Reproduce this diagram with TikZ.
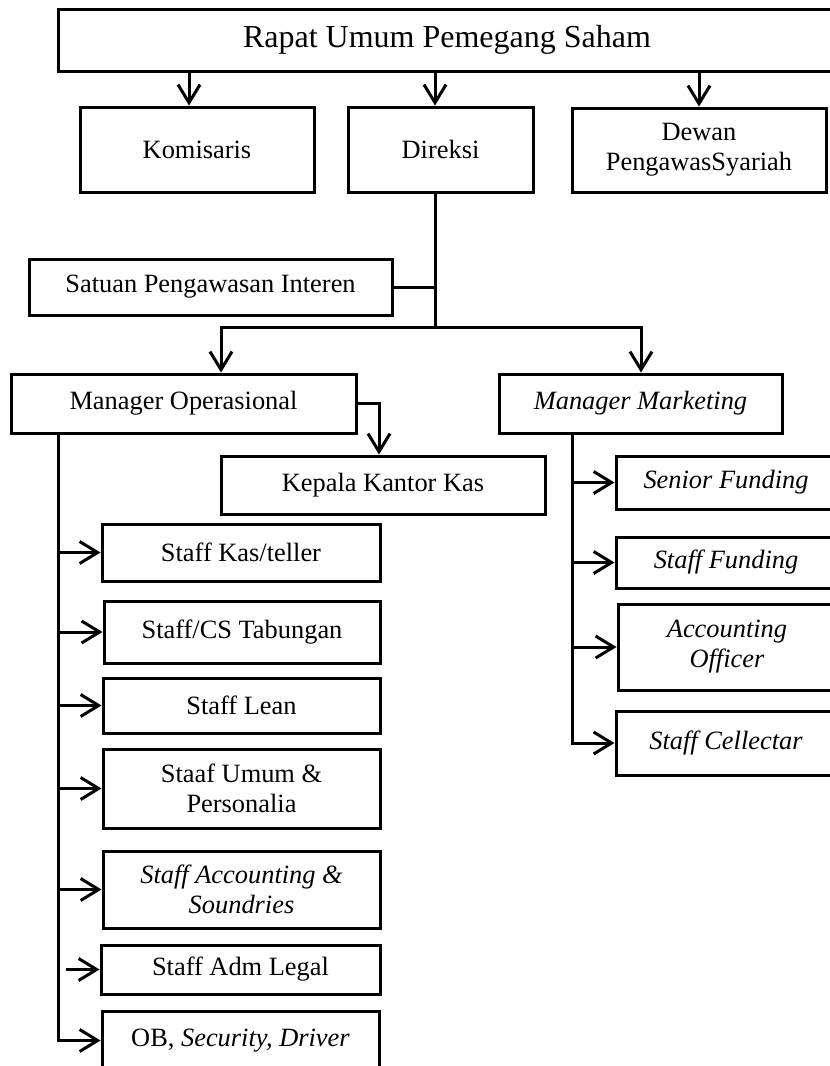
\documentclass[tikz,border=0pt]{standalone}
\usepackage{fontspec}
\setmainfont{Liberation Serif}
\usetikzlibrary{arrows.meta}

\tikzset{
  unit/.style={draw, line width=3pt, inner sep=2pt, align=center, font=\fontsize{26.4}{30}\selectfont},
  arr/.style={line width=3pt, -{Straight Barb[length=18pt, width=22pt]}},
  link/.style={line width=3pt},
}

\begin{document}
\begin{tikzpicture}[x=1pt, y=-1pt]
			%%%%% START %%%%%
			\useasboundingbox (0,0) rectangle (830,1066);
			
			\node[unit, minimum width=778pt, minimum height=62pt, font=\fontsize{32}{36}\selectfont] (rups) at (447,40) {Rapat Umum Pemegang Saham};
			
			\node[unit, minimum width=234pt, minimum height=85pt] (kom) at (197,149.5) {Komisaris};
			\node[unit, minimum width=185pt, minimum height=85pt] (dir) at (440.5,149.5) {Direksi};
			\node[unit, minimum width=254pt, minimum height=84pt] (dps) at (699,150) {Dewan\\PengawasSyariah};
			
			\node[unit, minimum width=363pt, minimum height=56pt] (spi) at (210.5,287) {Satuan Pengawasan Interen};
			
			\node[unit, minimum width=345pt, minimum height=59pt] (mo) at (183.5,403.5) {Manager Operasional};
			\node[unit, minimum width=283pt, minimum height=59pt] (mm) at (640.5,403.5) {\textit{Manager Marketing}};
			\node[unit, minimum width=324pt, minimum height=58pt] (kkk) at (383,485) {Kepala Kantor Kas};
			
			\node[unit, minimum width=278pt, minimum height=57pt] (kas) at (241,552.5) {Staff Kas/teller};
			\node[unit, minimum width=276pt, minimum height=62pt] (cs) at (242,632) {Staff/CS Tabungan};
			\node[unit, minimum width=277pt, minimum height=55pt] (lean) at (241.5,705.5) {Staff Lean};
			\node[unit, minimum width=277pt, minimum height=79pt] (umum) at (241.5,788.5) {Staaf Umum \&\\Personalia};
			\node[unit, minimum width=277pt, minimum height=77pt] (acc) at (241.5,889.5) {\textit{Staff Accounting \&}\\\textit{Soundries}};
			\node[unit, minimum width=279pt, minimum height=49pt] (legal) at (240.5,969.5) {Staff Adm Legal};
			\node[unit, minimum width=277pt, minimum height=59pt] (ob) at (240.5,1040.5) {OB, \textit{Security, Driver}};
			
			\node[unit, minimum width=220pt, minimum height=53pt] (sf) at (726,482.5) {\textit{Senior Funding}};
			\node[unit, minimum width=220pt, minimum height=51pt] (stf) at (726,562.5) {\textit{Staff Funding}};
			\node[unit, minimum width=218pt, minimum height=86pt] (ao) at (727,647) {\textit{Accounting}\\\textit{Officer}};
			\node[unit, minimum width=220pt, minimum height=64pt] (sc) at (726,743) {\textit{Staff Cellectar}};
			
			% lines
			\coordinate (komx) at (189,0);
			\coordinate (dirx) at (435,0);
			\coordinate (split) at (435,327);
			\coordinate (opx) at (221,0);
			\coordinate (mkx) at (641,0);
			\coordinate (kkx) at (379,0);
			\coordinate (optrunk) at (58,0);
			\coordinate (mktrunk) at (572,0);
			
			\draw[arr] (rups.south -| komx) -- (kom.north -| komx);
			\draw[arr] (rups.south -| dirx) -- (dir.north -| dirx);
			\draw[arr] (rups.south -| dps) -- (dps.north);
			
			\draw[link] (dir.south -| dirx) -- (split);
			\draw[link] (spi.east) -- (spi.east -| split);
			\draw[arr] (split) -- (split -| opx) -- (mo.north -| opx);
			\draw[arr] (split) -- (split -| mkx) -- (mm.north -| mkx);
			
			\draw[arr] (mo.east) -| (kkk.north -| kkx);
			
			\draw[arr] (mo.south -| optrunk) -- (optrunk |- ob.west) -- (ob.west);
			\draw[arr] (optrunk |- kas.west) -- (kas.west);
			\draw[arr] (optrunk |- cs.west) -- (cs.west);
			\draw[arr] (optrunk |- lean.west) -- (lean.west);
			\draw[arr] (optrunk |- umum.west) -- (umum.west);
			\draw[arr] (optrunk |- acc.west) -- (acc.west);
			\draw[arr] ([xshift=8pt]optrunk |- legal.west) -- (legal.west);
			
			\draw[arr] (mm.south -| mktrunk) -- (mktrunk |- sc.west) -- (sc.west);
			\draw[arr] (mktrunk |- sf.west) -- (sf.west);
			\draw[arr] (mktrunk |- stf.west) -- (stf.west);
			\draw[arr] (mktrunk |- ao.west) -- (ao.west);
			
			%%%%% END %%%%%
		\end{tikzpicture}
\end{document}
